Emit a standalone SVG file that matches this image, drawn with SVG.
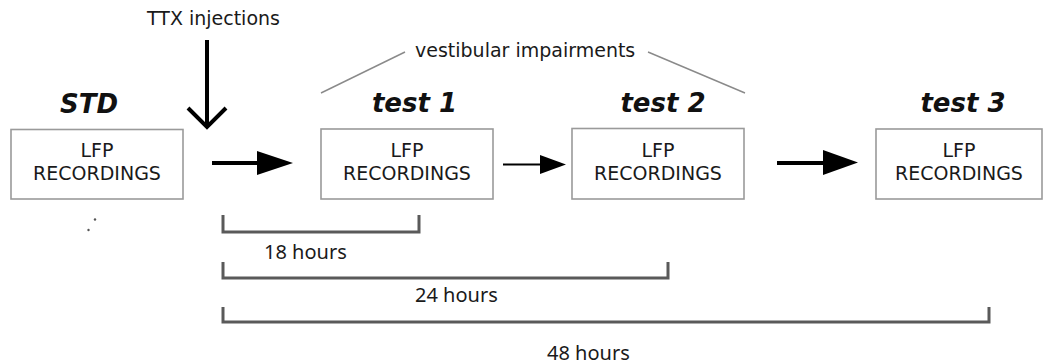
<svg xmlns="http://www.w3.org/2000/svg" width="1044" height="364" viewBox="0 0 1044 364">
<style>
.box{fill:#fff;stroke:#9a9a9a;stroke-width:1.6}
.lbl{font-family:"DejaVu Sans",Verdana,sans-serif;font-size:19px;fill:#1a1a1a;text-anchor:middle}
.ttl{font-family:"DejaVu Sans",Verdana,sans-serif;font-size:26px;font-weight:bold;font-style:italic;fill:#111;text-anchor:middle}
.txt{font-family:"DejaVu Sans",Verdana,sans-serif;font-size:19px;fill:#1a1a1a}
.hrs{font-family:"Noto Sans","Open Sans",sans-serif;font-size:20px;fill:#1a1a1a}
.brk{fill:none;stroke:#5a5a5a;stroke-width:3}
.thin{stroke:#8a8a8a;stroke-width:1.4;fill:none}
.arw{stroke:#000;fill:none;stroke-linecap:butt}
.head{fill:#000}
</style>
<rect width="1044" height="364" fill="#fff"/>
<g id="std">
<text class="ttl" x="89" y="113">STD</text>
<rect class="box" x="11" y="129.5" width="172" height="69.5"/>
<text class="lbl" x="97" y="157">LFP</text>
<text class="lbl" x="97" y="180">RECORDINGS</text>
</g>
<g id="test1">
<text class="ttl" x="414.5" y="112">test 1</text>
<rect class="box" x="321" y="129" width="172" height="70"/>
<text class="lbl" x="407" y="157">LFP</text>
<text class="lbl" x="407" y="180">RECORDINGS</text>
</g>
<g id="test2">
<text class="ttl" x="663" y="112">test 2</text>
<rect class="box" x="572" y="128.5" width="172" height="70.5"/>
<text class="lbl" x="658" y="157">LFP</text>
<text class="lbl" x="658" y="180">RECORDINGS</text>
</g>
<g id="test3">
<text class="ttl" x="963" y="112">test 3</text>
<rect class="box" x="876" y="129" width="166" height="70"/>
<text class="lbl" x="959" y="157">LFP</text>
<text class="lbl" x="959" y="180">RECORDINGS</text>
</g>
<g id="ttx">
<text class="txt" x="147" y="25">TTX injections</text>
</g>
<g id="vestibular">
<text class="txt" x="415" y="57">vestibular impairments</text>
<line class="thin" x1="321" y1="93" x2="405" y2="52"/>
<line class="thin" x1="648" y1="52" x2="745" y2="93"/>
</g>
<g id="connectors">
<line class="arw" x1="207" y1="40" x2="207" y2="126" stroke-width="4"/>
<polyline class="arw" points="188,108 207,127 226,108" stroke-width="4"/>
<line class="arw" x1="212" y1="163" x2="260" y2="163" stroke-width="4"/>
<polygon class="head" points="257,151 293,163 257,175"/>
<line class="arw" x1="503" y1="164.5" x2="542" y2="164.5" stroke-width="2"/>
<polygon class="head" points="540,155 566,164.5 540,174"/>
<line class="arw" x1="777" y1="163" x2="826" y2="163" stroke-width="4"/>
<polygon class="head" points="823,150 858,162.5 823,175"/>
</g>
<g id="durations">
<polyline class="brk" points="223,215 223,232 419,232 419,215"/>
<polyline class="brk" points="223,262 223,278 668,278 668,262"/>
<polyline class="brk" points="223,307 223,322 989,322 989,307"/>
<text class="hrs" x="264" y="259">18 hours</text>
<text class="hrs" x="415" y="302">24 hours</text>
<text class="hrs" x="547" y="360">48 hours</text>
</g>
<g id="dots" fill="#555">
<circle cx="95" cy="219.5" r="1.2"/>
<circle cx="88.5" cy="230" r="1.2"/>
</g>
</svg>
